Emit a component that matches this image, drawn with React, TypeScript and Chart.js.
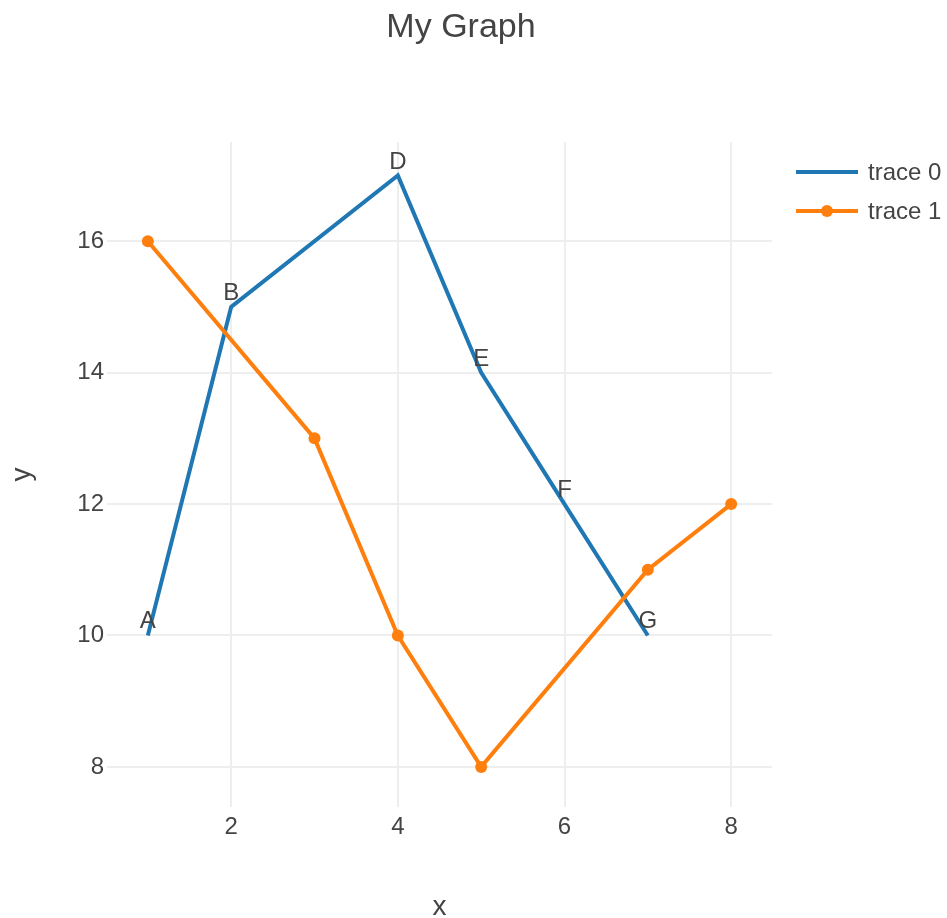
import React, { useEffect, useRef } from "react";
import { Chart, registerables } from "chart.js";

Chart.register(...registerables);

const trace0X = [1, 2, 4, 5, 6, 7];
const trace0Y = [10, 15, 17, 14, 12, 10];
const trace0Text = ["A", "B", "D", "E", "F", "G"];
const trace1X = [1, 3, 4, 5, 7, 8];
const trace1Y = [16, 13, 10, 8, 11, 12];
const xTicks = [2, 4, 6, 8];
const yTicks = [8, 10, 12, 14, 16];
const seriesNames = ["trace 0", "trace 1"];
const titleText = "My Graph";
const xTitle = "x";
const yTitle = "y";

const BLUE = "#1f77b4";
const ORANGE = "#ff7f0e";
const TEXT = "#444444";
const FONT = "'Liberation Sans', Arial, sans-serif";

export default function App() {
  const ref = useRef<HTMLCanvasElement | null>(null);

  useEffect(() => {
    if (!ref.current) return;

    const decor = {
      id: "decor",
      afterDatasetsDraw(chart: any) {
        const ctx = chart.ctx;
        const meta = chart.getDatasetMeta(0);
        ctx.save();
        ctx.fillStyle = TEXT;
        ctx.font = `24px ${FONT}`;
        ctx.textAlign = "center";
        ctx.textBaseline = "alphabetic";
        meta.data.forEach((pt: any, i: number) => {
          ctx.fillText(trace0Text[i], pt.x, pt.y - 7);
        });
        ctx.restore();
      },
      afterDraw(chart: any) {
        const ctx = chart.ctx;
        const area = chart.chartArea;
        ctx.save();
        ctx.fillStyle = TEXT;
        // title
        ctx.font = `34px ${FONT}`;
        ctx.textAlign = "center";
        ctx.textBaseline = "alphabetic";
        ctx.fillText(titleText, 461, 37);
        // axis titles
        ctx.font = `28px ${FONT}`;
        ctx.fillText(xTitle, (area.left + area.right) / 2, 915);
        ctx.save();
        ctx.translate(30, (area.top + area.bottom) / 2);
        ctx.rotate(-Math.PI / 2);
        ctx.fillText(yTitle, 0, 0);
        ctx.restore();
        // legend
        const colors = [BLUE, ORANGE];
        const rows = [172, 211];
        ctx.font = `24px ${FONT}`;
        ctx.textAlign = "left";
        ctx.textBaseline = "middle";
        seriesNames.forEach((name, i) => {
          const y = rows[i];
          ctx.strokeStyle = colors[i];
          ctx.lineWidth = 4;
          ctx.beginPath();
          ctx.moveTo(796, y);
          ctx.lineTo(858, y);
          ctx.stroke();
          if (i === 1) {
            ctx.fillStyle = colors[i];
            ctx.beginPath();
            ctx.arc(827, y, 6, 0, Math.PI * 2);
            ctx.fill();
          }
          ctx.fillStyle = TEXT;
          ctx.fillText(name, 868, y + 1);
        });
        ctx.restore();
      },
    };

    const chart = new Chart(ref.current, {
      type: "line",
      data: {
        datasets: [
          {
            label: seriesNames[0],
            data: trace0X.map((x, i) => ({ x, y: trace0Y[i] })),
            borderColor: BLUE,
            backgroundColor: BLUE,
            borderWidth: 4,
            pointRadius: 0,
            tension: 0,
            order: 2,
          },
          {
            label: seriesNames[1],
            data: trace1X.map((x, i) => ({ x, y: trace1Y[i] })),
            borderColor: ORANGE,
            backgroundColor: ORANGE,
            borderWidth: 4,
            pointRadius: 6,
            pointBorderWidth: 0,
            tension: 0,
            order: 1,
          },
        ],
      },
      options: {
        responsive: false,
        animation: false,
        devicePixelRatio: 1,
        layout: { padding: { left: 0, right: 175, top: 142, bottom: 0 } },
        plugins: {
          legend: { display: false },
          title: { display: false },
          tooltip: { enabled: false },
        },
        scales: {
          x: {
            type: "linear",
            min: 0.51,
            max: 8.49,
            afterFit: (s: any) => {
              s.height = 111;
            },
            afterBuildTicks: (s: any) => {
              s.ticks = xTicks.map((v) => ({ value: v }));
            },
            grid: { color: "#eeeeee", lineWidth: 2, drawTicks: false },
            border: { display: false },
            ticks: {
              color: TEXT,
              font: { family: FONT, size: 24 },
              padding: 6,
              maxRotation: 0,
            },
          },
          y: {
            type: "linear",
            min: 7.39,
            max: 17.51,
            afterFit: (s: any) => {
              s.width = 107;
            },
            afterBuildTicks: (s: any) => {
              s.ticks = yTicks.map((v) => ({ value: v }));
            },
            grid: { color: "#eeeeee", lineWidth: 2, drawTicks: false },
            border: { display: false },
            ticks: {
              color: TEXT,
              font: { family: FONT, size: 24 },
              padding: 3,
            },
          },
        },
      },
      plugins: [decor],
    } as any);

    return () => chart.destroy();
  }, []);

  return (
    <div style={{ position: "absolute", left: 0, top: 0, width: 947, height: 918, background: "#fff" }}>
      <canvas ref={ref} width={947} height={918} style={{ width: 947, height: 918, display: "block" }} />
    </div>
  );
}
